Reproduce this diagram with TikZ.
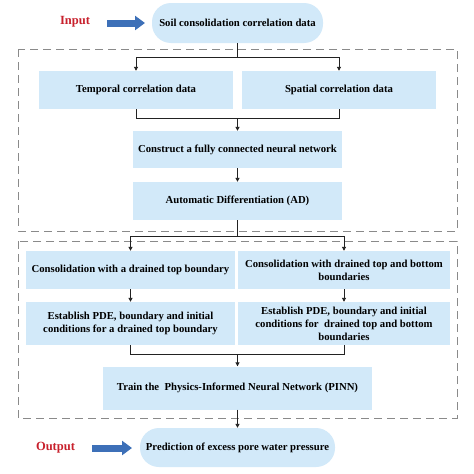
\documentclass[tikz,border=0pt]{standalone}
\usepackage{fontspec}
\setmainfont{Liberation Serif}
\usetikzlibrary{arrows.meta}
\definecolor{boxfill}{HTML}{D2E9F9}
\definecolor{redtxt}{HTML}{C8202C}
\definecolor{arrblue}{HTML}{3D70B8}
\definecolor{dashgray}{HTML}{8A8A8A}
\definecolor{linecol}{HTML}{222222}
\tikzset{
  pbox/.style={fill=boxfill, inner sep=2pt, align=center, font=\fontsize{10.7}{13}\selectfont\bfseries},
  stadium/.style={pbox, rounded corners=19pt},
  conn/.style={draw=linecol, line width=0.9pt, -{Triangle[length=4pt,width=4pt]}},
  plain/.style={draw=linecol, line width=0.9pt},
  dbox/.style={draw=dashgray, line width=0.9pt, dash pattern=on 8pt off 5pt},
  iolabel/.style={text=redtxt, font=\fontsize{12.5}{14}\selectfont\bfseries},
  bigarrow/.style={draw=arrblue, line width=7pt, -{Triangle[length=10pt,width=14pt]}},
}
\begin{document}
\begin{tikzpicture}[x=1pt,y=-1pt]
\useasboundingbox (0,0) rectangle (474,474);
\fill[white] (0,0) rectangle (474,474);
% dashed frames
\draw[dbox] (18,49) rectangle (457,231);
\draw[dbox] (18,241) rectangle (457,418);
% nodes
\node[stadium, minimum width=171pt, minimum height=40pt] (top) at (237.5,23) {Soil consolidation correlation data};
\node[iolabel] (inlab) at (75,22) {Input};
\coordinate (ina) at (107,23);
\coordinate (inb) at (145,23);
\node[pbox, minimum width=194pt, minimum height=38pt] (temp) at (136,90) {Temporal correlation data};
\node[pbox, minimum width=194pt, minimum height=38pt] (spat) at (339,90) {Spatial correlation data};
\node[pbox, minimum width=209pt, minimum height=37pt] (cons) at (237.5,149.5) {Construct a fully connected neural network};
\node[pbox, minimum width=209pt, minimum height=38pt] (ad) at (237.5,201) {Automatic Differentiation (AD)};
\node[pbox, minimum width=209pt, minimum height=38pt] (a1) at (130.5,270) {Consolidation with a drained top boundary};
\node[pbox, minimum width=212pt, minimum height=38pt] (b1) at (344,270) {Consolidation with drained top and bottom\\boundaries};
\node[pbox, minimum width=209pt, minimum height=43pt] (a2) at (130.5,323.5) {Establish PDE, boundary and initial\\conditions for a drained top boundary};
\node[pbox, minimum width=212pt, minimum height=43pt] (b2) at (344,323.5) {Establish PDE, boundary and initial\\conditions for\ \ drained top and bottom\\boundaries};
\node[pbox, minimum width=269pt, minimum height=43pt] (pinn) at (237.5,388) {Train the\ \ Physics-Informed Neural Network (PINN)};
\node[stadium, minimum width=195pt, minimum height=39pt] (out) at (237.5,447.5) {Prediction of excess pore water pressure};
\node[iolabel] (outlab) at (55.5,448) {Output};
\coordinate (outa) at (92,448);
\coordinate (outb) at (132,448);
% big input/output arrows
\draw[bigarrow] (ina) -- (inb);
\draw[bigarrow] (outa) -- (outb);
% coordinates for split/merge
\coordinate (s1) at (237.5,57);
\coordinate (m1) at (237.5,118);
\coordinate (s2) at (237.5,236);
\coordinate (m2) at (237.5,354);
% connectors
\draw[plain] (top.south) -- (s1);
\draw[conn] (s1) -| (temp.north);
\draw[conn] (s1) -| (spat.north);
\draw[plain] (temp.south) |- (m1);
\draw[plain] (spat.south) |- (m1);
\draw[conn] (m1) -- (cons.north);
\draw[conn] (cons.south) -- (ad.north);
\draw[plain] (ad.south) -- (s2);
\draw[conn] (s2) -| (a1.north);
\draw[conn] (s2) -| (b1.north);
\draw[conn] (a1.south) -- (a2.north);
\draw[conn] (b1.south) -- (b2.north);
\draw[plain] (a2.south) |- (m2);
\draw[plain] (b2.south) |- (m2);
\draw[conn] (m2) -- (pinn.north);
\draw[conn] (pinn.south) -- (out.north);
\end{tikzpicture}
\end{document}
